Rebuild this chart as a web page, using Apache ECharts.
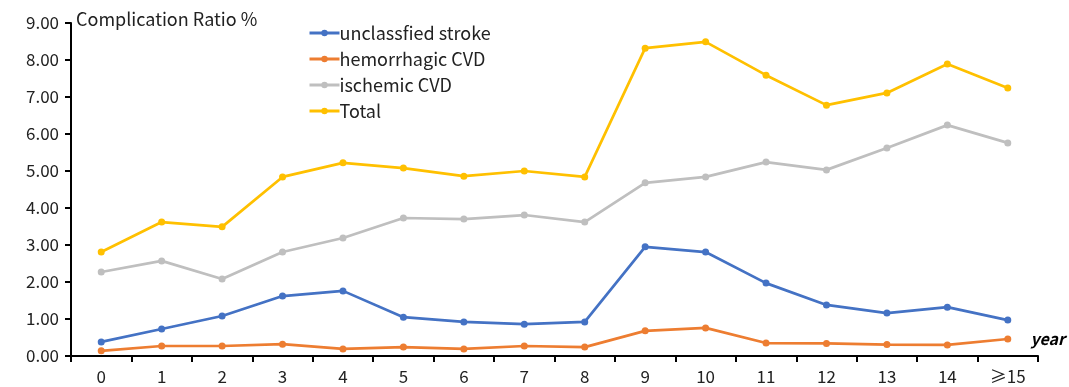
<!DOCTYPE html>
<html><head><meta charset="utf-8">
<script src="https://cdn.jsdelivr.net/npm/echarts@6/dist/echarts.min.js"></script>
<style>html,body{margin:0;padding:0;background:#fff}#c{width:1069px;height:387px}</style>
</head><body><div id="c"></div>
<script>
const categories = ['0','1','2','3','4','5','6','7','8','9','10','11','12','13','14','≥15'];
const unclassified = [0.38,0.73,1.08,1.62,1.76,1.05,0.92,0.86,0.92,2.95,2.81,1.97,1.38,1.16,1.32,0.97];
const hemorrhagic = [0.14,0.27,0.27,0.32,0.19,0.24,0.19,0.27,0.24,0.68,0.76,0.35,0.34,0.31,0.30,0.46];
const ischemic = [2.27,2.57,2.08,2.81,3.19,3.73,3.70,3.81,3.62,4.68,4.84,5.24,5.03,5.62,6.24,5.76];
const total = [2.81,3.62,3.49,4.84,5.22,5.08,4.86,5.00,4.84,8.32,8.49,7.59,6.78,7.11,7.89,7.24];
const seriesNames = ['unclassfied stroke','hemorrhagic CVD','ischemic CVD','Total'];
const colors = ['#4472C4','#ED7D31','#BFBFBF','#FFC000'];
const font = '"Noto Sans CJK SC", "Noto Sans", sans-serif';
const chart = echarts.init(document.getElementById('c'), null, {renderer:'canvas'});
const mk = (name, data, i) => ({
  name, type:'line', data, color: colors[i],
  symbol:'circle', symbolSize:7,
  lineStyle:{width:2.7, color:colors[i]}, itemStyle:{color:colors[i]},
  z: 10 - i
});
chart.setOption({
  animation:false,
  textStyle:{fontFamily:font},
  grid:{left:71, right:31, top:23, bottom:31, containLabel:false},
  legend:{
    orient:'vertical', left:303, top:16, itemWidth:30, itemHeight:8, itemGap:2,
    lineStyle:{width:3},
    textStyle:{fontSize:18, color:'#222', fontFamily:font, padding:[0,0,0,-5], lineHeight:24},
    data: seriesNames
  },
  xAxis:{
    type:'category', data:categories, boundaryGap:true,
    axisLine:{lineStyle:{color:'#000', width:2}},
    axisTick:{show:true, alignWithLabel:false, length:6, lineStyle:{color:'#000', width:2}},
    axisLabel:{color:'#222', fontSize:17, margin:12, fontFamily:font},
    splitLine:{show:false}
  },
  yAxis:{
    type:'value', min:0, max:9, interval:1,
    axisLine:{show:true, lineStyle:{color:'#000', width:2}},
    axisTick:{show:true, length:6, lineStyle:{color:'#000', width:2}},
    axisLabel:{color:'#222', fontSize:17, margin:12, formatter:v=>v.toFixed(2), fontFamily:font},
    splitLine:{show:false}
  },
  graphic:[
    {type:'text', left:76, top:10, style:{text:'Complication Ratio %', fontSize:18, fill:'#222', fontFamily:font}},
    {type:'text', right:4, top:331, style:{text:'year', fontSize:16, fontWeight:'bold', fontStyle:'italic', fill:'#000', fontFamily:font}}
  ],
  series:[
    mk(seriesNames[0], unclassified, 0),
    mk(seriesNames[1], hemorrhagic, 1),
    mk(seriesNames[2], ischemic, 2),
    mk(seriesNames[3], total, 3)
  ]
});
</script></body></html>
